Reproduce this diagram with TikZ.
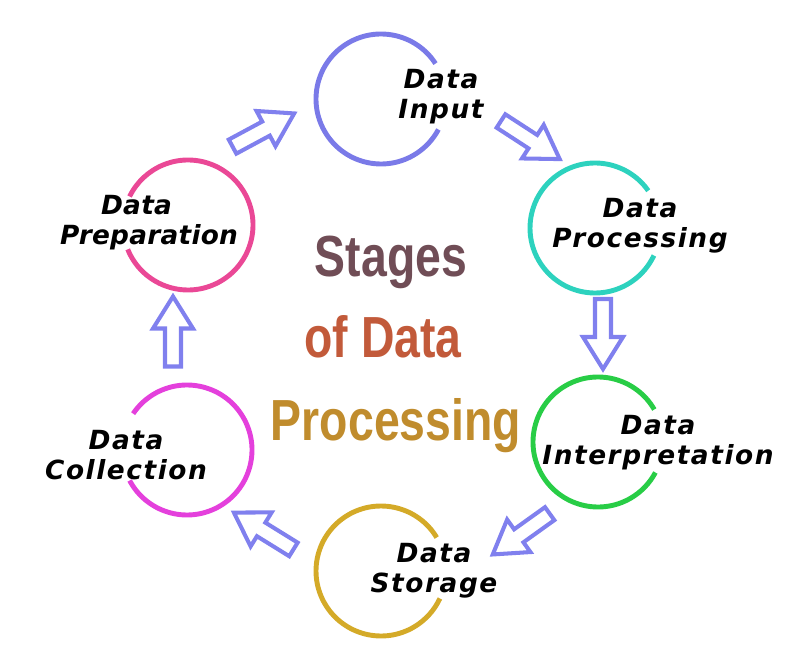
\documentclass[tikz,border=0pt]{standalone}
\usepackage{fontspec}
\usetikzlibrary{decorations.markings}

\newfontfamily\lblfamily[LetterSpace=6]{DejaVu Sans}
\newfontfamily\lbltightfamily[LetterSpace=1]{DejaVu Sans}
\newfontfamily\ttlfamily[FakeStretch=0.8]{Liberation Sans}
\newcommand\lblfont{\lblfamily\bfseries\itshape\fontsize{15}{17.2}\selectfont}
\newcommand\lbltightfont{\lbltightfamily\bfseries\itshape\fontsize{15}{17.2}\selectfont}
\newcommand\ttlfont{\ttlfamily\bfseries\fontsize{33}{38}\selectfont}

\definecolor{inputc}{RGB}{122,122,232}
\definecolor{procc}{RGB}{45,210,190}
\definecolor{interc}{RGB}{40,205,70}
\definecolor{storc}{RGB}{212,170,40}
\definecolor{collc}{RGB}{228,64,220}
\definecolor{prepc}{RGB}{234,72,150}
\definecolor{arrowc}{RGB}{128,128,238}
\definecolor{navy}{RGB}{28,42,124}
\definecolor{orng}{RGB}{238,130,30}
\definecolor{plum}{RGB}{128,30,100}
\definecolor{yell}{RGB}{245,230,0}

\begin{document}
\begin{tikzpicture}[x=0.02cm, y=-0.02cm,
    ring/.style={circle, minimum size=2.6cm, inner sep=0pt, outer sep=0pt},
    arc line/.style={line width=2.8pt},
    lbl/.style={font=\lblfont, align=center, inner sep=0pt},
    ttl/.style={font=\ttlfont, inner sep=0pt, anchor=base},
    blockarrow/.style={decorate, decoration={markings, mark=at position 0.5 with {
        \draw[draw=arrowc, fill=white, line width=2.3pt, line join=miter]
          (-34,-8) -- (4,-8) -- (4,-20) -- (36,0) -- (4,20) -- (4,8) -- (-34,8) -- cycle;}}}
]
\useasboundingbox (0,0) rectangle (800,671);

% stages
\node[ring] (input) at (381,99) {};
\node[ring] (proc) at (595,228) {};
\node[ring] (inter) at (598,442) {};
\node[ring] (stor) at (381,571) {};
\node[ring] (coll) at (187,450) {};
\node[ring] (prep) at (188,225) {};

\draw[arc line, inputc] (input.33) arc[start angle=33, end angle=332, radius=1.3cm];
\draw[arc line, procc] (proc.35) arc[start angle=35, end angle=335, radius=1.3cm];
\draw[arc line, interc] (inter.30) arc[start angle=30, end angle=332, radius=1.3cm];
\draw[arc line, storc] (stor.31) arc[start angle=31, end angle=335, radius=1.3cm];
\draw[arc line, collc] (coll.-152) arc[start angle=-152, end angle=146, radius=1.3cm];
\draw[arc line, prepc] (prep.-158) arc[start angle=-158, end angle=154, radius=1.3cm];

\node[lbl] (inputlbl) at (441,97) {Data\\Input};
\node[lbl] (proclbl) at (640,226) {Data\\Processing};
\node[lbl] (interlbl) at (658,443) {Data\\Interpretation};
\node[lbl] (storlbl) at (434,571) {Data\\Storage};
\node[lbl] (colllbl) at (126,455) {Data\\Collection};
\node[lbl, font=\lbltightfont] (preplbl) at (149,223) {Data\hspace*{0.5cm}\\Preparation};

% arrows between the stages
\coordinate (a1t) at (230,148); \coordinate (a1h) at (295,113);
\coordinate (a2t) at (501,121); \coordinate (a2h) at (558,158);
\coordinate (a3t) at (603,297); \coordinate (a3h) at (603,369);
\coordinate (a4t) at (552,512); \coordinate (a4h) at (492,555);
\coordinate (a5t) at (296,551); \coordinate (a5h) at (233,512);
\coordinate (a6t) at (173,368); \coordinate (a6h) at (173,297);
\path[blockarrow] (a1t) -- (a1h);
\path[blockarrow] (a2t) -- (a2h);
\path[blockarrow] (a3t) -- (a3h);
\path[blockarrow] (a4t) -- (a4h);
\path[blockarrow] (a5t) -- (a5h);
\path[blockarrow] (a6t) -- (a6h);

% title
\node[ttl, text=orng!40!navy] (stages) at (391,277) {Stages};
\node[ttl, text=orng!60!plum] (ofdata) at (383,358) {of Data};
\node[ttl, text=yell!55!plum] (processing) at (396,440) {Processing};
\end{tikzpicture}
\end{document}
